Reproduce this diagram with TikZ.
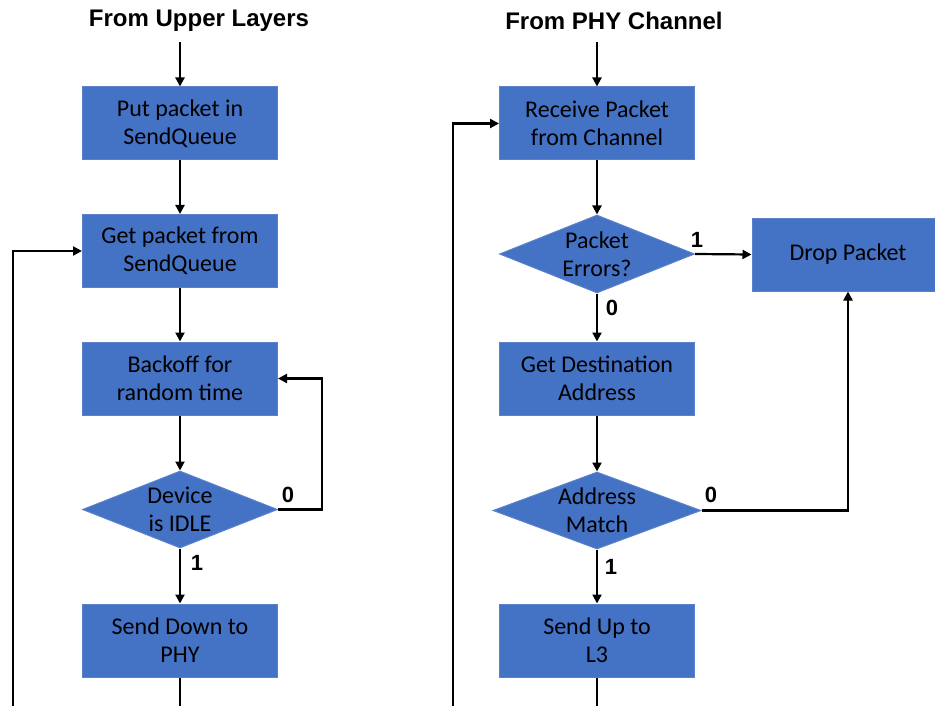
\documentclass[tikz,border=0pt]{standalone}
\usepackage{fontspec}
\setmainfont{Carlito}
\newfontfamily\headfont{Liberation Sans}
\usetikzlibrary{arrows.meta,shapes.geometric}
\definecolor{boxblue}{HTML}{4472C4}
\definecolor{boxedge}{HTML}{5B80CC}
\tikzset{
  stepbox/.style={rectangle, fill=boxblue, draw=boxedge, line width=1pt,
    minimum width=195pt, minimum height=73pt, inner sep=0pt, align=center,
    font=\fontsize{24}{28}\selectfont},
  dia/.style={diamond, fill=boxblue, draw=boxedge, line width=1pt,
    minimum height=77pt, inner sep=0pt},
  dtext/.style={align=center, font=\fontsize{24}{28}\selectfont, inner sep=0pt},
  title/.style={font=\headfont\bfseries\fontsize{24}{28}\selectfont},
  lbl/.style={font=\headfont\bfseries\fontsize{22}{26}\selectfont},
  arr/.style={line width=2.2pt, -{Triangle[length=9pt,width=9pt]}},
  ln/.style={line width=2.2pt}
}
\begin{document}
\begin{tikzpicture}[x=1pt,y=-1pt]
\useasboundingbox (0,0) rectangle (935,706);
% titles
\node[title] (t1) at (199,21) {From Upper Layers};
\node[title] (t2) at (614,21) {From PHY Channel};
% left column
\coordinate (c1) at (180,42);
\node[stepbox] (b1) at (180,123.5) {Put packet in\\SendQueue};
\node[stepbox] (b2) at (180,251) {Get packet from\\SendQueue};
\node[stepbox] (b3) at (180,378.5) {Backoff for\\random time};
\node[dia, minimum width=195pt, label={[dtext]center:Device\\is IDLE}] (d1) at (180,509.5) {};
\node[stepbox] (b4) at (180,640.5) {Send Down to\\PHY};
\coordinate (lb) at (13,707);
\coordinate (lr) at (322,0);
% right column
\coordinate (c2) at (597,42);
\node[stepbox] (r1) at (597,123.5) {Receive Packet\\from Channel};
\node[dia, minimum width=195pt, minimum height=78pt, label={[dtext]center:Packet\\Errors?}] (rd1) at (597,254) {};
\node[stepbox] (r2) at (597,378.5) {Get Destination\\Address};
\node[dia, minimum width=208pt, label={[dtext]center:Address\\Match}] (rd2) at (597,510.5) {};
\node[stepbox] (r3) at (597,640.5) {Send Up to\\L3};
\node[stepbox, minimum width=192pt] (drop) at (848,254.5) {Drop Packet};
\coordinate (rb) at (453,706.6);
% left connectors
\draw[arr] (c1) -- (b1);
\draw[arr] (b1) -- (b2);
\draw[arr] (b2) -- (b3);
\draw[arr] (b3) -- (d1);
\draw[arr] (d1) -- (b4);
\draw[arr] (d1.east) -- (lr |- d1.east) |- (b3.east);
\draw[arr] (b4.south) -- (b4 |- lb) -- (lb) |- (b2.west);
\node[lbl] (l0a) at (288,495) {0};
\node[lbl] (l1a) at (197,563) {1};
% right connectors
\draw[arr] (c2) -- (r1);
\draw[arr] (r1) -- (rd1);
\draw[arr] (rd1.east) -- (drop.west);
\draw[arr] (rd1) -- (r2);
\draw[arr] (r2) -- (rd2);
\draw[arr] (rd2.east) -- (drop |- rd2.east) -- (drop.south);
\draw[arr] (rd2) -- (r3);
\draw[arr] (r3.south) -- (r3 |- rb) -- (rb) |- (r1.west);
\node[lbl] (l1b) at (697,240) {1};
\node[lbl] (l0b) at (612,308) {0};
\node[lbl] (l0c) at (711,495) {0};
\node[lbl] (l1c) at (611,567) {1};
\end{tikzpicture}
\end{document}
